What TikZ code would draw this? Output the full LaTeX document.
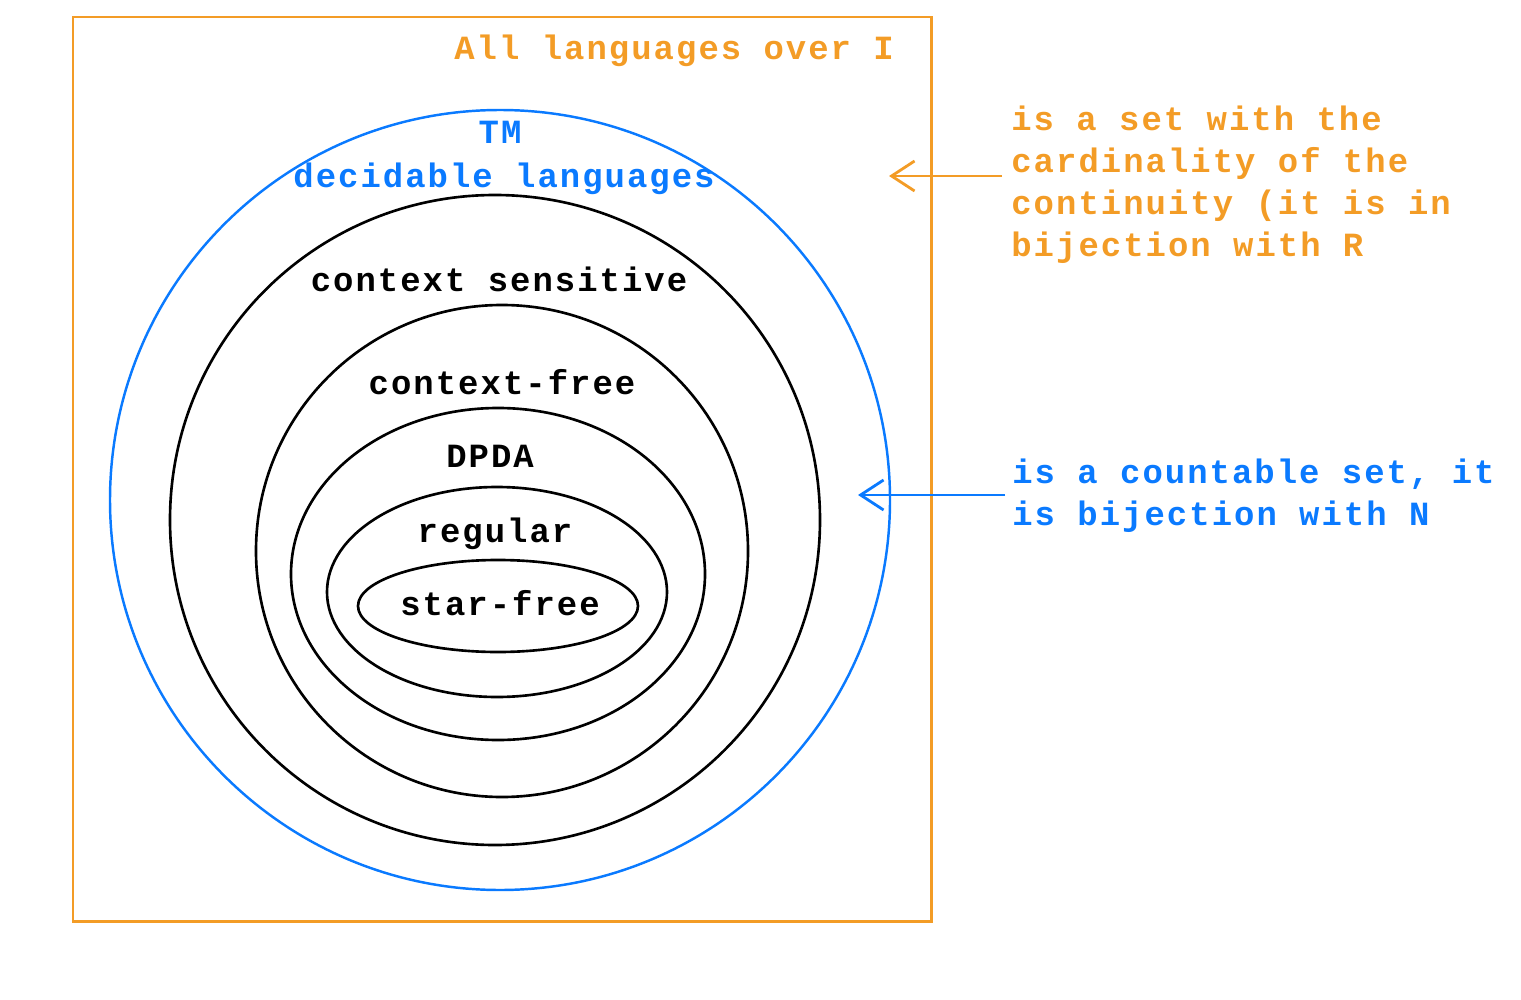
\documentclass[tikz,border=0pt]{standalone}
\usepackage{fontspec}
\setmonofont{Liberation Mono}[LetterSpace=6]
\usepackage{tikz}
\usetikzlibrary{arrows.meta,positioning}

\definecolor{langorange}{RGB}{243,156,38}
\definecolor{tmblue}{RGB}{10,122,255}

\begin{document}
\begin{tikzpicture}[
    x=0.02cm, y=-0.02cm,
    lbl/.style={inner sep=0pt, font=\ttfamily\bfseries\fontsize{19.3}{23.9}\selectfont},
    note/.style={lbl, align=left, anchor=base west},
    class/.style={draw, line width=1.5pt},
    arrow/.style={-{Straight Barb[length=0.46cm, width=0.6cm, line width=1.6pt]}, line width=1.7pt}
]
\useasboundingbox (0,0) rectangle (1521,1000);

% Sets
\draw[langorange, line width=1.7pt] (73,17) rectangle (931,921);
\draw[tmblue, line width=1.4pt] (500,500) ellipse [x radius=390, y radius=390];
\draw[class] (495,520) ellipse [x radius=325, y radius=325];
\draw[class] (502,551) ellipse [x radius=246, y radius=246];
\draw[class] (498,574) ellipse [x radius=207, y radius=166];
\draw[class] (497,592) ellipse [x radius=170, y radius=105];
\draw[class] (498,606) ellipse [x radius=140, y radius=46];

% Nodes
\node[lbl, langorange, anchor=base west] (all) at (454,60) {All languages over I};
\node[lbl, tmblue, anchor=base] (tm) at (500,144) {TM};
\node[lbl, tmblue, anchor=base] (decidable) at (504,188) {decidable languages};
\node[lbl, anchor=base] (cs) at (499,292) {context sensitive};
\node[lbl, anchor=base] (cf) at (502,394) {context-free};
\node[lbl, anchor=base] (dpda) at (490,467) {DPDA};
\node[lbl, anchor=base] (regular) at (495,542) {regular};
\node[lbl, anchor=base] (starfree) at (500,615) {star-free};
% multi-line notes: base is the last line
\node[note, langorange] (continuum) at (1011,256) {is a set with the\\cardinality of the\\continuity (it is in\\bijection with R};
\node[note, tmblue] (countable) at (1012,525) {is a countable set, it\\is bijection with N};

\coordinate (contail) at (1002,176);
\coordinate (contip) at (889,176);
\coordinate (cnttail) at (1005,495);
\coordinate (cnttip) at (858,495);

% Arrows
\draw[arrow, langorange] (contail) -- (contip);
\draw[arrow, tmblue] (cnttail) -- (cnttip);

\end{tikzpicture}
\end{document}
